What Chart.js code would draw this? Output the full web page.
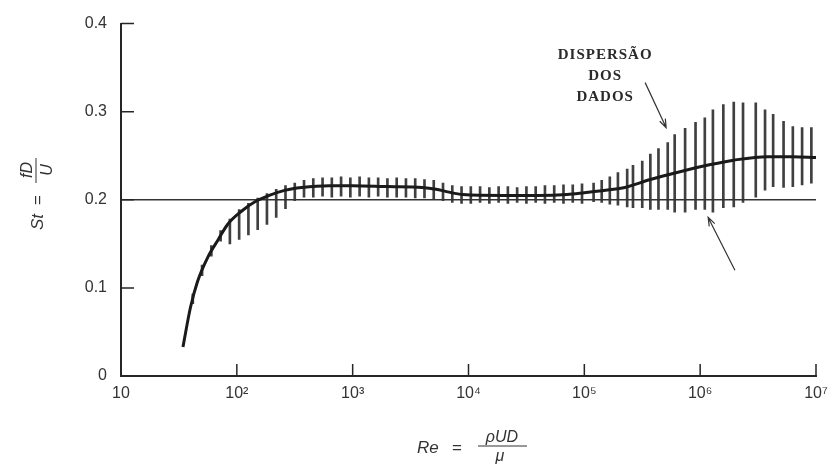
<!DOCTYPE html>
<html>
<head>
<meta charset="utf-8">
<script src="https://cdn.jsdelivr.net/npm/chart.js@4.4.0/dist/chart.umd.min.js"></script>
<style>
html, body { margin: 0; padding: 0; background: #fff; }
#wrap { width: 838px; height: 470px; }
</style>
</head>
<body>
<div id="wrap"><canvas id="strouhalChart"></canvas></div>
<script>
// Re given as exponents of 10
const curveExp = [1.535, 1.60, 1.66, 1.75, 1.84, 1.92, 2.04, 2.16, 2.28, 2.42, 2.56, 2.8, 3.0, 3.3, 3.6, 3.72, 3.82, 3.95, 4.3, 4.6, 4.85, 5.0, 5.2, 5.35, 5.57, 5.8, 6.09, 6.29, 6.58, 6.8, 7.0];
const curveSt = [0.033, 0.078, 0.107, 0.135, 0.155, 0.172, 0.187, 0.198, 0.205, 0.211, 0.214, 0.216, 0.216, 0.215, 0.214, 0.212, 0.209, 0.206, 0.205, 0.205, 0.206, 0.208, 0.211, 0.214, 0.223, 0.231, 0.240, 0.245, 0.249, 0.249, 0.248];

const refExp = [1, 7];
const refSt = [0.2, 0.2];

// scatter band (vertical bars)
const barExp = [
    1.62, 1.70, 1.78, 1.86, 1.94, 2.02, 2.10, 2.18, 2.26, 2.34,
    2.42, 2.50, 2.58, 2.66, 2.74, 2.82, 2.90, 2.98, 3.06, 3.14,
    3.22, 3.30, 3.38, 3.46, 3.54, 3.62, 3.70, 3.78, 3.86, 3.94,
    4.02, 4.10, 4.18, 4.26, 4.34, 4.42, 4.50, 4.58, 4.66, 4.74,
    4.82, 4.90, 4.98, 5.08, 5.15, 5.22, 5.29, 5.37, 5.42, 5.50,
    5.57, 5.64, 5.72, 5.78, 5.87, 5.96, 6.04, 6.11, 6.20, 6.29,
    6.37, 6.48, 6.56, 6.63, 6.72, 6.80, 6.88, 6.96
];
const barLow = [
    0.082, 0.114, 0.136, 0.153, 0.150, 0.155, 0.160, 0.166, 0.172, 0.180,
    0.190, 0.199, 0.203, 0.203, 0.204, 0.203, 0.204, 0.203, 0.204, 0.203,
    0.204, 0.203, 0.203, 0.203, 0.202, 0.202, 0.201, 0.199, 0.197, 0.196,
    0.196, 0.197, 0.196, 0.197, 0.196, 0.197, 0.196, 0.197, 0.196, 0.197,
    0.196, 0.197, 0.196, 0.198, 0.197, 0.195, 0.194, 0.192, 0.191, 0.191,
    0.189, 0.189, 0.189, 0.186, 0.186, 0.189, 0.189, 0.186, 0.191, 0.192,
    0.197, 0.203, 0.211, 0.215, 0.214, 0.215, 0.217, 0.219
];
const barHigh = [
    0.093, 0.126, 0.148, 0.165, 0.178, 0.189, 0.196, 0.202, 0.207, 0.212,
    0.216, 0.219, 0.222, 0.224, 0.225, 0.225, 0.226, 0.225, 0.226, 0.225,
    0.225, 0.224, 0.225, 0.224, 0.224, 0.223, 0.222, 0.219, 0.216, 0.215,
    0.215, 0.215, 0.214, 0.215, 0.215, 0.214, 0.215, 0.215, 0.216, 0.216,
    0.217, 0.217, 0.218, 0.219, 0.222, 0.226, 0.231, 0.235, 0.239, 0.244,
    0.252, 0.258, 0.265, 0.274, 0.281, 0.288, 0.293, 0.302, 0.308, 0.311,
    0.310, 0.310, 0.302, 0.297, 0.289, 0.283, 0.282, 0.282
];

const tickVals = [10, 1e2, 1e3, 1e4, 1e5, 1e6, 1e7];
const tickLabels = ['10', '10²', '10³', '10⁴', '10⁵', '10⁶', '10⁷'];

const noteLines = ['DISPERSÃO', 'DOS', 'DADOS'];
const noteExp = 5.18;
const noteSt = [0.364, 0.340, 0.316];
// arrows: [fromExp, fromSt, toExp, toSt]
const arrows = [
    [5.525, 0.333, 5.706, 0.282],
    [6.30, 0.120, 6.069, 0.180]
];

const SANS = "'Liberation Sans', Arial, Helvetica, sans-serif";
const INK = '#262626';

const extras = {
    id: 'extras',
    afterDatasetsDraw(chart) {
        const {ctx, chartArea, scales: {x, y}} = chart;
        ctx.save();
        ctx.strokeStyle = INK;
        ctx.lineWidth = 1.5;
        ctx.beginPath();
        tickVals.slice(1).forEach(v => {
            const px = x.getPixelForValue(v);
            ctx.moveTo(px, chartArea.bottom);
            ctx.lineTo(px, chartArea.bottom - 12);
        });
        y.ticks.forEach(t => {
            if (t.value <= 0) return;
            const py = y.getPixelForValue(t.value);
            ctx.moveTo(chartArea.left, py);
            ctx.lineTo(chartArea.left + 13, py);
        });
        ctx.stroke();

        // arrows
        ctx.lineWidth = 1.2;
        ctx.strokeStyle = '#333';
        arrows.forEach(a => {
            const x0 = x.getPixelForValue(10 ** a[0]), y0 = y.getPixelForValue(a[1]);
            const x1 = x.getPixelForValue(10 ** a[2]), y1 = y.getPixelForValue(a[3]);
            const ang = Math.atan2(y1 - y0, x1 - x0);
            ctx.beginPath();
            ctx.moveTo(x0, y0);
            ctx.lineTo(x1, y1);
            ctx.moveTo(x1 - 9 * Math.cos(ang - 0.35), y1 - 9 * Math.sin(ang - 0.35));
            ctx.lineTo(x1, y1);
            ctx.lineTo(x1 - 9 * Math.cos(ang + 0.35), y1 - 9 * Math.sin(ang + 0.35));
            ctx.stroke();
        });

        // note text
        ctx.fillStyle = '#2a2a2a';
        ctx.font = "bold 15px 'Liberation Serif', 'Times New Roman', serif";
        if ('letterSpacing' in ctx) ctx.letterSpacing = '1px';
        ctx.textAlign = 'center';
        ctx.textBaseline = 'middle';
        const nx = x.getPixelForValue(10 ** noteExp);
        noteLines.forEach((s, i) => ctx.fillText(s, nx, y.getPixelForValue(noteSt[i])));
        ctx.restore();
    },
    afterDraw(chart) {
        const {ctx, chartArea} = chart;
        ctx.save();
        ctx.fillStyle = '#333';
        ctx.strokeStyle = '#333';
        ctx.lineWidth = 1;

        // x title: Re = rho U D / mu
        const by = chartArea.bottom + 72;
        ctx.font = 'italic 17px ' + SANS;
        ctx.textBaseline = 'middle';
        ctx.textAlign = 'left';
        ctx.fillText('Re', 417, by);
        ctx.font = '17px ' + SANS;
        ctx.fillText('=', 452, by);
        ctx.beginPath();
        ctx.moveTo(478, by - 2);
        ctx.lineTo(527, by - 2);
        ctx.stroke();
        ctx.textAlign = 'center';
        ctx.font = 'italic 16px ' + SANS;
        ctx.textBaseline = 'alphabetic';
        ctx.fillText('ρUD', 502, by - 6);
        ctx.fillText('μ', 500, by + 13);

        // y title: St = fD / U (rotated)
        ctx.translate(38, 200);
        ctx.rotate(-Math.PI / 2);
        ctx.textBaseline = 'middle';
        ctx.textAlign = 'right';
        ctx.font = 'italic 17px ' + SANS;
        ctx.fillText('St', -14, 0);
        ctx.textAlign = 'center';
        ctx.font = '17px ' + SANS;
        ctx.fillText('=', 0, 0);
        ctx.beginPath();
        ctx.moveTo(17, -2);
        ctx.lineTo(42, -2);
        ctx.stroke();
        ctx.font = 'italic 16px ' + SANS;
        ctx.textBaseline = 'alphabetic';
        ctx.fillText('fD', 30, -6);
        ctx.fillText('U', 30, 14);
        ctx.restore();
    }
};

const ctx = document.getElementById('strouhalChart').getContext('2d');

new Chart(ctx, {
    type: 'bar',
    data: {
        datasets: [
            {
                type: 'line',
                label: 'St',
                data: curveExp.map((e, i) => ({x: 10 ** e, y: curveSt[i]})),
                borderColor: '#1a1a1a',
                borderWidth: 3,
                pointRadius: 0,
                cubicInterpolationMode: 'monotone',
                order: 0
            },
            {
                type: 'line',
                label: 'St = 0,2',
                data: refExp.map((e, i) => ({x: 10 ** e, y: refSt[i]})),
                borderColor: '#333',
                borderWidth: 1.6,
                pointRadius: 0,
                order: 1
            },
            {
                type: 'bar',
                label: 'Dispersão dos dados',
                data: barExp.map((e, i) => ({x: 10 ** e, y: [barLow[i], barHigh[i]]})),
                backgroundColor: '#404040',
                barThickness: 2,
                order: 2
            }
        ]
    },
    options: {
        responsive: true,
        maintainAspectRatio: false,
        animation: false,
        layout: {
            padding: {top: 23, right: 22, left: 0, bottom: 0}
        },
        plugins: {
            legend: {display: false},
            tooltip: {enabled: false}
        },
        scales: {
            x: {
                type: 'logarithmic',
                min: 10,
                max: 1e7,
                offset: false,
                grid: {display: false, drawTicks: false},
                border: {display: true, color: INK, width: 2},
                afterBuildTicks: (scale) => {
                    scale.ticks = tickVals.map(v => ({value: v}));
                },
                afterFit: (scale) => { scale.height = 94; },
                ticks: {
                    autoSkip: false,
                    maxRotation: 0,
                    padding: 8,
                    color: '#333',
                    font: {size: 16, family: SANS},
                    callback: (value) => {
                        const i = tickVals.indexOf(value);
                        return i >= 0 ? tickLabels[i] : '';
                    }
                }
            },
            y: {
                min: 0,
                max: 0.4,
                grid: {display: false, drawTicks: false},
                border: {display: true, color: INK, width: 2},
                afterFit: (scale) => { scale.width = 121; },
                ticks: {
                    stepSize: 0.1,
                    padding: 14,
                    color: '#333',
                    font: {size: 16, family: SANS},
                    callback: (value) => value === 0 ? '0' : value.toFixed(1)
                }
            }
        }
    },
    plugins: [extras]
});
</script>
</body>
</html>
